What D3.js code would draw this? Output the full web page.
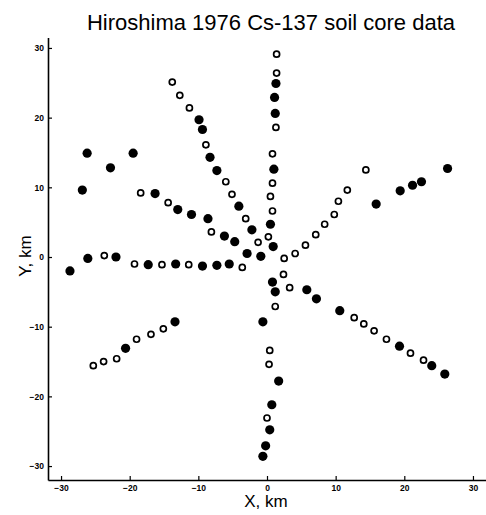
<!DOCTYPE html>
<html>
<head>
<meta charset="utf-8">
<script src="https://cdn.jsdelivr.net/npm/d3@7"></script>
<style>
  html, body { margin: 0; padding: 0; background: #fff; }
  svg { display: block; }
  text { font-family: "Liberation Sans", Arial, sans-serif; fill: #000; }
</style>
</head>
<body>
<svg id="chart" width="486" height="515"></svg>
<script>
// Chart text
const title = "Hiroshima 1976 Cs-137 soil core data";
const xLabel = "X, km";
const yLabel = "Y, km";
const xTicks = [-30, -20, -10, 0, 10, 20, 30];
const yTicks = [-30, -20, -10, 0, 10, 20, 30];

// Filled markers (km)
const filledX = [-26.2, -19.5, -22.8, -26.9, -16.3, -13.0, -11.0, -8.6, -6.2, -4.7,
  -9.9, -9.4, -8.3, -7.3, -4.1, -2.2, -2.9, -0.9,
  -26.1, -22.0, -28.7, -17.3, -13.3, -9.4, -7.3, -5.5,
  -20.6, -13.4,
  1.3, 1.1, 1.2, 1.0, 0.5, 0.9,
  15.9, 19.4, 21.2, 22.5, 26.3,
  0.8, 1.2, 5.8, 7.2, 10.6, 19.3, 24.0, 25.9,
  -0.6, 1.7, 0.7, 0.4, -0.2, -0.6];
const filledY = [14.9, 14.9, 12.8, 9.6, 9.1, 6.8, 6.1, 5.5, 3.0, 2.2,
  19.7, 18.3, 14.3, 12.4, 7.3, 3.9, 0.5, 0.1,
  -0.2, 0.0, -2.0, -1.1, -1.0, -1.3, -1.2, -1.0,
  -13.1, -9.3,
  24.9, 22.9, 20.6, 12.6, 4.7, 1.5,
  7.6, 9.5, 10.3, 10.8, 12.7,
  -3.6, -5.0, -4.7, -6.0, -7.7, -12.8, -15.6, -16.8,
  -9.3, -17.8, -21.2, -24.8, -27.1, -28.6];

// Open markers (km)
const openX = [-13.8, -12.7, -11.3, -8.9, -6.0, -5.1, -3.1, -1.3,
  -18.4, -14.4, -8.1,
  -23.7, -19.3, -15.3, -11.4, -3.6,
  -25.3, -23.8, -21.9, -19.0, -16.9, -15.1,
  1.4, 1.4, 1.3, 0.8, 0.8, 0.5, 0.8, 0.2,
  2.5, 4.1, 5.6, 7.1, 8.4, 9.8, 10.4, 11.7, 14.4,
  2.4, 3.3, 1.2, 12.7, 14.1, 15.6, 17.4, 20.9, 22.8,
  0.4, 0.3, 0.0];
const openY = [25.1, 23.2, 21.4, 16.1, 10.8, 9.0, 5.5, 2.1,
  9.2, 7.8, 3.6,
  0.2, -1.0, -1.1, -1.1, -1.5,
  -15.6, -15.0, -14.6, -11.8, -11.1, -10.3,
  29.1, 26.4, 18.6, 14.8, 10.6, 8.7, 6.6, 2.9,
  -0.2, 0.5, 1.7, 3.2, 4.7, 6.1, 8.0, 9.6, 12.5,
  -2.5, -4.4, -7.1, -8.7, -9.6, -10.6, -11.8, -13.8, -14.8,
  -13.4, -15.4, -23.1];

const svg = d3.select("#chart");

const x = d3.scaleLinear().domain([-31.9, 31.9]).range([48, 486]);
const y = d3.scaleLinear().domain([-32, 31.5]).range([480, 37.5]);

// Title
svg.append("text")
  .attr("x", 271).attr("y", 30)
  .attr("text-anchor", "middle")
  .style("font-size", "22px")
  .text(title);

// Axes
const xAxis = d3.axisBottom(x).tickValues(xTicks).tickSizeInner(-4).tickSizeOuter(0).tickPadding(5)
  .tickFormat(d3.format("d"));
const yAxis = d3.axisLeft(y).tickValues(yTicks).tickSizeInner(-4).tickSizeOuter(0).tickPadding(4)
  .tickFormat(d3.format("d"));

const gx = svg.append("g").attr("transform", `translate(0,${y(-32)})`).call(xAxis);
const gy = svg.append("g").attr("transform", `translate(${x(-31.9)},0)`).call(yAxis);

[gx, gy].forEach(g => {
  g.select(".domain").attr("stroke", "#000").attr("stroke-width", 1.6);
  g.selectAll(".tick line").attr("stroke", "#000").attr("stroke-width", 1.2);
  g.selectAll(".tick text")
    .style("font-size", "8.5px")
    .style("font-weight", "bold")
    .style("font-family", "'Liberation Sans Narrow', 'Liberation Sans', Arial, sans-serif")
    .attr("fill", "#000");
});

// Axis labels
svg.append("text")
  .attr("x", 266).attr("y", 507)
  .attr("text-anchor", "middle")
  .style("font-size", "17px")
  .text(xLabel);

svg.append("text")
  .attr("transform", "translate(31,256) rotate(-90)")
  .attr("text-anchor", "middle")
  .style("font-size", "17px")
  .text(yLabel);

// Markers
const filled = filledX.map((v, i) => ({ x: v, y: filledY[i] }));
const open = openX.map((v, i) => ({ x: v, y: openY[i] }));

svg.append("g").selectAll("circle").data(filled).join("circle")
  .attr("cx", d => x(d.x)).attr("cy", d => y(d.y))
  .attr("r", 4.6)
  .attr("fill", "#000");

svg.append("g").selectAll("circle").data(open).join("circle")
  .attr("cx", d => x(d.x)).attr("cy", d => y(d.y))
  .attr("r", 3)
  .attr("fill", "#fff")
  .attr("stroke", "#000")
  .attr("stroke-width", 1.7);
</script>
</body>
</html>
